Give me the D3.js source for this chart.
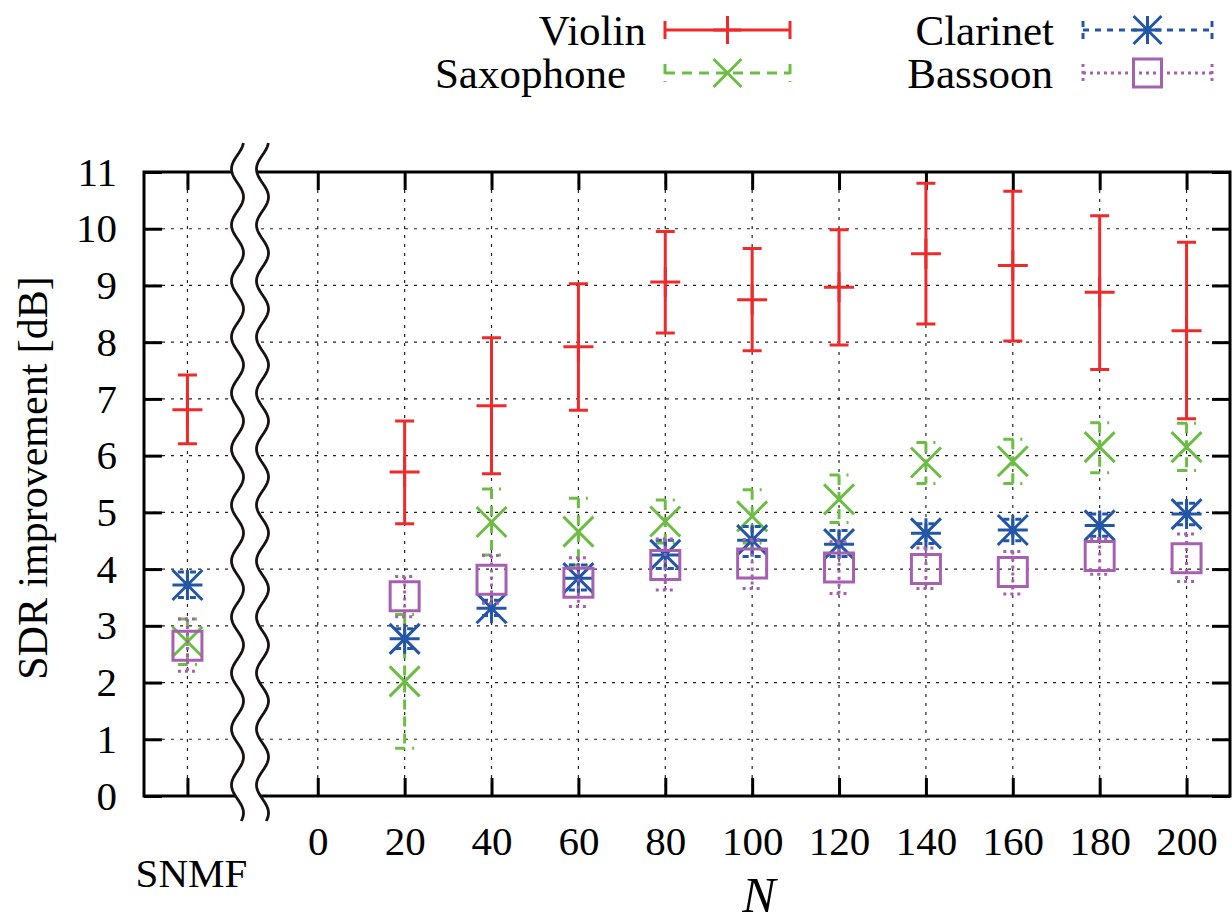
<!DOCTYPE html>
<html>
<head>
<meta charset="utf-8">
<script src="https://cdn.jsdelivr.net/npm/d3@7"></script>
<style>
  body { margin: 0; background: #fff; }
  text { font-family: "Liberation Serif", "DejaVu Serif", serif; fill: #000; }
</style>
</head>
<body>
<script>
//Categories along the x axis: SNMF first, then the N values
var categories = ["SNMF", 20, 40, 60, 80, 100, 120, 140, 160, 180, 200];
//Tick labels on the N axis
var nTicks = [0, 20, 40, 60, 80, 100, 120, 140, 160, 180, 200];
var yTicks = [0, 1, 2, 3, 4, 5, 6, 7, 8, 9, 10, 11];

//Series values (mean, lower and upper end of the error bar)
var violinMean = [6.81, 5.71, 6.88, 7.92, 9.06, 8.75, 8.97, 9.56, 9.35, 8.88, 8.20];
var violinLow  = [6.21, 4.80, 5.68, 6.80, 8.16, 7.85, 7.95, 8.32, 8.02, 7.52, 6.65];
var violinHigh = [7.42, 6.61, 8.08, 9.03, 9.95, 9.65, 9.98, 10.80, 10.66, 10.23, 9.76];

var saxMean = [2.72, 2.02, 4.83, 4.66, 4.84, 4.93, 5.23, 5.88, 5.90, 6.15, 6.15];
var saxLow  = [2.32, 0.84, 4.25, 4.07, 4.46, 4.46, 4.82, 5.51, 5.51, 5.70, 5.74];
var saxHigh = [3.12, 3.20, 5.41, 5.25, 5.22, 5.40, 5.66, 6.23, 6.29, 6.58, 6.57];

var clarMean = [3.72, 2.77, 3.31, 3.84, 4.25, 4.51, 4.44, 4.63, 4.69, 4.77, 4.97];
var clarLow  = [3.50, 2.60, 3.18, 3.63, 4.01, 4.22, 4.22, 4.45, 4.50, 4.58, 4.78];
var clarHigh = [3.95, 2.95, 3.45, 4.07, 4.51, 4.75, 4.68, 4.80, 4.88, 4.97, 5.16];

var bassMean = [2.65, 3.52, 3.81, 3.76, 4.07, 4.10, 4.03, 4.00, 3.95, 4.23, 4.19];
var bassLow  = [2.20, 3.16, 3.40, 3.34, 3.63, 3.66, 3.57, 3.66, 3.56, 3.91, 3.78];
var bassHigh = [3.12, 3.87, 4.24, 4.20, 4.53, 4.52, 4.48, 4.37, 4.31, 4.54, 4.62];

var seriesNames = ["Violin", "Saxophone", "Clarinet", "Bassoon"];

//Where the SNMF column sits on the (broken) N axis
var snmfX = -30;

(function(){
  //Define the area
  var w = 1232, h = 923;
  var pLeft = 144, pRight = 1230, pTop = 172, pBottom = 796;

  var x = d3.scaleLinear().domain([-40, 210]).range([pLeft, pRight]);
  var y = d3.scaleLinear().domain([0, 11]).range([pBottom, pTop]);

  function xPos(c) { return c === "SNMF" ? x(snmfX) : x(c); }

  var series = [
    {name: seriesNames[0], mean: violinMean, low: violinLow, high: violinHigh, color: "#ee2b2b", dash: null,   marker: "plus"},
    {name: seriesNames[1], mean: saxMean,    low: saxLow,    high: saxHigh,    color: "#6dbd45", dash: "10,7", marker: "cross"},
    {name: seriesNames[2], mean: clarMean,   low: clarLow,   high: clarHigh,   color: "#2356a6", dash: "6,6",  marker: "star"},
    {name: seriesNames[3], mean: bassMean,   low: bassLow,   high: bassHigh,   color: "#a660b0", dash: "3,4",  marker: "square"}
  ];

  var svg = d3.select("body").append("svg")
    .attr("width", w).attr("height", h);

  svg.append("rect").attr("width", w).attr("height", h).attr("fill", "#fff");

  //Grid lines
  var xGridVals = [snmfX].concat(nTicks);
  var grid = svg.append("g");
  grid.selectAll("line.gx").data(xGridVals).enter().append("line")
    .attr("x1", function(d){ return x(d); }).attr("x2", function(d){ return x(d); })
    .attr("y1", y(0)).attr("y2", y(11))
    .attr("stroke", "#222").attr("stroke-width", 1.2).attr("stroke-dasharray", "3,6");
  grid.selectAll("line.gy").data(yTicks.slice(1, -1)).enter().append("line")
    .attr("x1", x(-40)).attr("x2", x(210))
    .attr("y1", function(d){ return y(d); }).attr("y2", function(d){ return y(d); })
    .attr("stroke", "#222").attr("stroke-width", 1.2).attr("stroke-dasharray", "3,6");

  //Axes with inward ticks
  var tickLen = 18;
  var gx = svg.append("g").attr("transform", "translate(0," + pBottom + ")")
    .call(d3.axisBottom(x).tickValues(xGridVals).tickSize(-tickLen).tickSizeOuter(0).tickPadding(30)
      .tickFormat(function(d){ return d === snmfX ? "" : d; }));
  var gxt = svg.append("g").attr("transform", "translate(0," + pTop + ")")
    .call(d3.axisTop(x).tickValues(xGridVals).tickSize(-tickLen).tickSizeOuter(0).tickFormat(""));
  var gy = svg.append("g").attr("transform", "translate(" + pLeft + ",0)")
    .call(d3.axisLeft(y).tickValues(yTicks).tickSize(-tickLen).tickSizeOuter(0).tickPadding(27));
  var gyr = svg.append("g").attr("transform", "translate(" + pRight + ",0)")
    .call(d3.axisRight(y).tickValues(yTicks).tickSize(-tickLen).tickSizeOuter(0).tickFormat(""));

  [gx, gxt, gy, gyr].forEach(function(g){
    g.select(".domain").remove();
    g.selectAll(".tick line").attr("stroke", "#000").attr("stroke-width", 3);
    g.selectAll(".tick text").style("font-family", "Liberation Serif").style("font-size", "41px").attr("fill", "#000");
  });
  gx.selectAll(".tick text").attr("dy", "0.71em");

  //Frame
  svg.append("rect")
    .attr("x", pLeft).attr("y", pTop).attr("width", pRight - pLeft).attr("height", pBottom - pTop)
    .attr("fill", "none").attr("stroke", "#000").attr("stroke-width", 3);

  //Draws one marker
  function drawMarker(g, type, cx, cy, color, s) {
    var p = "";
    if (type === "plus" || type === "star") p += "M" + (cx - s) + "," + cy + "H" + (cx + s) + "M" + cx + "," + (cy - s) + "V" + (cy + s);
    if (type === "cross" || type === "star") p += "M" + (cx - s) + "," + (cy - s) + "L" + (cx + s) + "," + (cy + s) + "M" + (cx - s) + "," + (cy + s) + "L" + (cx + s) + "," + (cy - s);
    if (type === "square") p = "M" + (cx - s) + "," + (cy - s) + "H" + (cx + s) + "V" + (cy + s) + "H" + (cx - s) + "Z";
    g.append("path").attr("d", p).attr("fill", "none").attr("stroke", color).attr("stroke-width", 3);
  }

  //Error bars and markers for each series
  var cap = 9.5, ms = 15;
  series.forEach(function(s){
    var g = svg.append("g");
    categories.forEach(function(c, i){
      var cx = xPos(c), lo = y(s.low[i]), hi = y(s.high[i]);
      g.append("path")
        .attr("d", "M" + (cx - cap) + "," + hi + "H" + (cx + cap) + "M" + cx + "," + hi + "V" + lo + "M" + (cx - cap) + "," + lo + "H" + (cx + cap))
        .attr("fill", "none").attr("stroke", s.color).attr("stroke-width", 3)
        .attr("stroke-dasharray", s.dash);
      drawMarker(g, s.marker, cx, y(s.mean[i]), s.color, s.marker === "square" ? 14.5 : ms);
    });
  });

  //Axis break: two wavy lines with white in between
  var breakL = 237.5, breakR = 262.5, amp = 6, period = 56;
  var ys = d3.range(143, 823, 2);
  function wave(cx) {
    return ys.map(function(v){ return [cx + amp * Math.sin(2 * Math.PI * (v - 183) / period), v]; });
  }
  var lw = wave(breakL), rw = wave(breakR);
  var line = d3.line();
  svg.append("path").attr("d", line(lw.concat(rw.slice().reverse())) + "Z").attr("fill", "#fff");
  svg.append("path").attr("d", line(lw)).attr("fill", "none").attr("stroke", "#1a1212").attr("stroke-width", 2.8);
  svg.append("path").attr("d", line(rw)).attr("fill", "none").attr("stroke", "#1a1212").attr("stroke-width", 2.8);

  //Axis titles
  svg.append("text").attr("x", xPos("SNMF") + 4).attr("y", 887).attr("text-anchor", "middle")
    .style("font-size", "41px").text("SNMF");
  svg.append("text").attr("x", 759).attr("y", 912).attr("text-anchor", "middle")
    .style("font-size", "50px").style("font-style", "italic").text("N");
  svg.append("text").attr("transform", "translate(47,478) rotate(-90)").attr("text-anchor", "middle")
    .style("font-size", "42px").text("SDR improvement [dB]");

  //Legend
  var legendPos = [
    {textX: 646, x1: 665, x2: 790, y: 30},
    {textX: 626, x1: 665, x2: 790, y: 73},
    {textX: 1054, x1: 1083, x2: 1212, y: 30},
    {textX: 1053, x1: 1083, x2: 1212, y: 73}
  ];
  var legend = svg.append("g");
  series.forEach(function(s, i){
    var p = legendPos[i];
    legend.append("text").attr("x", p.textX).attr("y", p.y + 15).attr("text-anchor", "end")
      .style("font-size", "43px").text(s.name);
    legend.append("path")
      .attr("d", "M" + p.x1 + "," + (p.y - 9) + "V" + (p.y + 9) + "M" + p.x1 + "," + p.y + "H" + p.x2 + "M" + p.x2 + "," + (p.y - 9) + "V" + (p.y + 9))
      .attr("fill", "none").attr("stroke", s.color).attr("stroke-width", 3)
      .attr("stroke-dasharray", s.dash);
    drawMarker(legend, s.marker, (p.x1 + p.x2) / 2, p.y, s.color, 14);
  });
})();
</script>
</body>
</html>
